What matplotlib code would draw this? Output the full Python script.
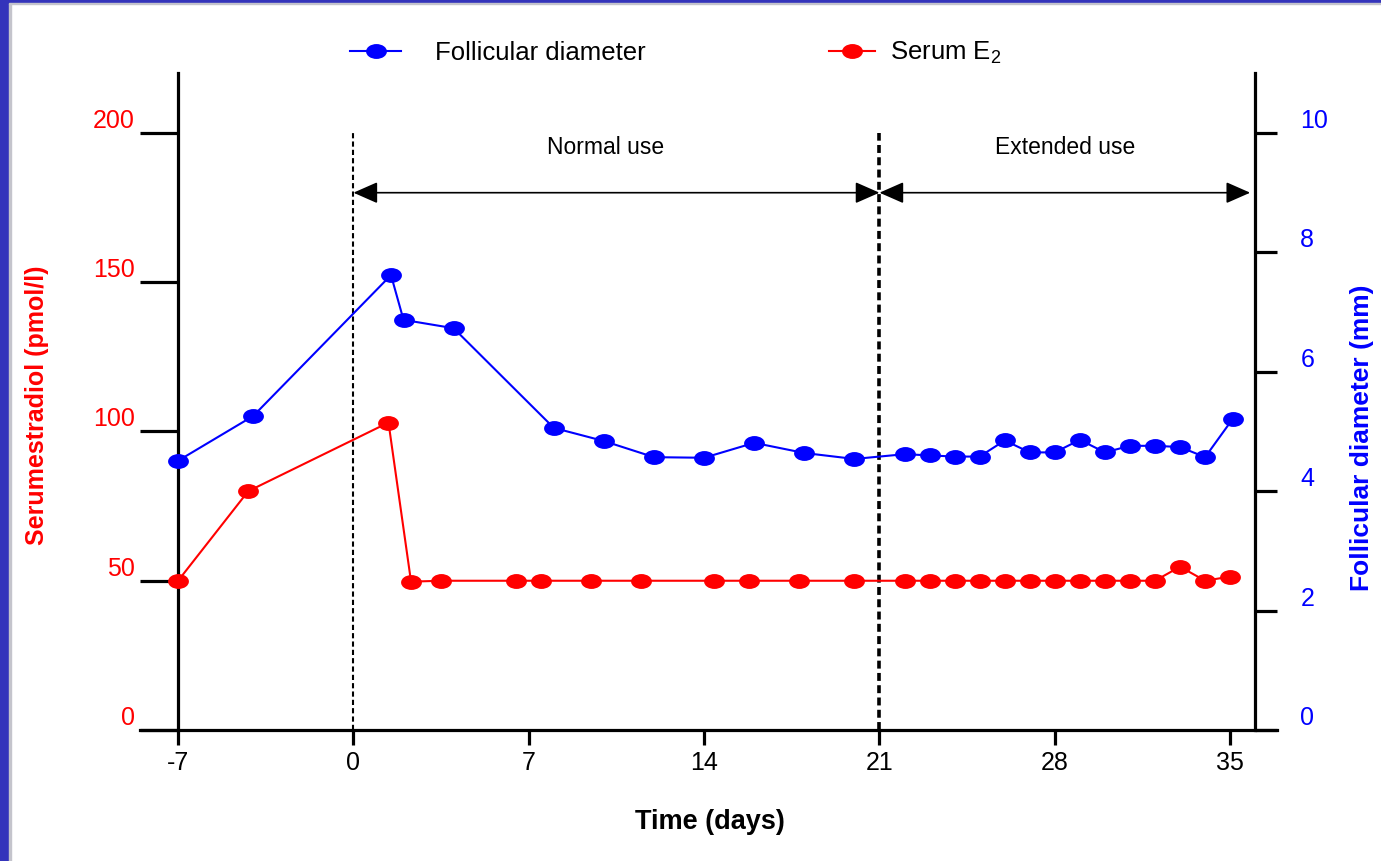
import matplotlib
matplotlib.use("Agg")
import matplotlib.pyplot as plt
from matplotlib.path import Path
from matplotlib.lines import Line2D
from matplotlib.patches import Rectangle

plt.rcParams["font.family"] = ["Liberation Sans", "DejaVu Sans"]
plt.rcParams["axes.unicode_minus"] = False
plt.rcParams["mathtext.fontset"] = "custom"
plt.rcParams["mathtext.rm"] = "Liberation Sans"
plt.rcParams["mathtext.it"] = "Liberation Sans:italic"
plt.rcParams["mathtext.bf"] = "Liberation Sans:bold"

# data
blue_days = [-7, -4, 1.5, 2, 4, 8, 10, 12, 14, 16, 18, 20,
             22, 23, 24, 25, 26, 27, 28, 29, 30, 31, 32, 33, 34, 35.1]
blue_mm = [4.51, 5.26, 7.62, 6.87, 6.73, 5.06, 4.84, 4.57, 4.56, 4.81, 4.64, 4.54,
           4.62, 4.60, 4.58, 4.58, 4.85, 4.65, 4.65, 4.86, 4.65, 4.76, 4.76, 4.74, 4.57, 5.21]

red_days = [-7, -4.2, 1.4, 2.3, 3.5, 6.5, 7.5, 9.5, 11.5, 14.4, 15.8, 17.8, 20,
            22, 23, 24, 25, 26, 27, 28, 29, 30, 31, 32, 33, 34, 35]
red_e2 = [50, 80, 103, 49.7, 50, 50, 50, 50, 50, 50, 50, 50, 50,
          50, 50, 50, 50, 50, 50, 50, 50, 50, 50, 50, 54.7, 50, 51.4]

x_ticks = [-7, 0, 7, 14, 21, 28, 35]
e2_ticks = [0, 50, 100, 150, 200]
mm_ticks = [0, 2, 4, 6, 8, 10]

phases = [("Normal use", 0, 21, 10.05), ("Extended use", 21, 35.8, 28.4)]

BLUE = "#0000ff"
RED = "#ff0000"
W, H = 1381, 861

# slightly squashed ellipse marker, like the original export
circ = Path.unit_circle()
ellipse = Path(circ.vertices * [1.4, 1.0], circ.codes)

fig = plt.figure(figsize=(W / 100, H / 100), dpi=100)
fig.patches.append(Rectangle((0, 0), 9 / W, 1, transform=fig.transFigure,
                             color="#3434bb", zorder=0))
fig.patches.append(Rectangle((9 / W, 0), 2 / W, 1 - 3 / H, transform=fig.transFigure,
                             color="#c4c4cc", zorder=0))
fig.patches.append(Rectangle((0, 1 - 3 / H), 1, 3 / H, transform=fig.transFigure,
                             color="#3434bb", zorder=0))
fig.patches.append(Rectangle((9 / W, 1 - 4 / H), 1, 1 / H, transform=fig.transFigure,
                             color="#c4c4cc", zorder=0))

ax = fig.add_axes([140 / W, (H - 730) / H, (1277 - 140) / W, (730 - 73) / H])
ax2 = ax.twinx()

ax.set_xlim(-8.52, 36.87)
ax.set_ylim(0, 220.1)
ax2.set_ylim(0, 11.005)

# E2 on left axis, follicle on right axis
ax.plot(red_days, red_e2, color=RED, lw=1.5, marker=ellipse, markersize=15,
        markeredgewidth=0, zorder=3)
ax2.plot(blue_days, blue_mm, color=BLUE, lw=1.5, marker=ellipse, markersize=15,
         markeredgewidth=0, zorder=3)

# spines
for a in (ax, ax2):
    a.spines["top"].set_visible(False)
ax.spines["right"].set_visible(False)
ax2.spines["left"].set_visible(False)
ax2.spines["bottom"].set_visible(False)
ax.spines["left"].set_position(("data", -7))
ax2.spines["right"].set_position(("data", 36))
for s in (ax.spines["left"], ax.spines["bottom"], ax2.spines["right"]):
    s.set_linewidth(2.3)

ax.set_xticks(x_ticks)
ax.set_yticks(e2_ticks)
ax2.set_yticks(mm_ticks)
ax.tick_params(axis="x", length=11, width=2.3, pad=4, labelsize=18, colors="black")
ax.tick_params(axis="y", length=27.5, width=2.3, pad=3.6, labelsize=18, labelcolor=RED)
ax2.tick_params(axis="y", length=16, width=2.3, pad=16.5, labelsize=18, labelcolor=BLUE)
for lab in ax.get_yticklabels() + ax2.get_yticklabels():
    lab.set_verticalalignment("bottom")

# axis titles
ax.set_xlabel("Time (days)", fontsize=19.5, fontweight="bold", va="center")
ax.xaxis.set_label_coords(710 / W, 1 - 822 / H, transform=fig.transFigure)
ax.set_ylabel("Serumestradiol (pmol/l)", fontsize=18, fontweight="bold", color=RED,
              va="center")
ax.yaxis.set_label_coords(37 / W, 1 - 405 / H, transform=fig.transFigure)
ax2.set_ylabel("Follicular diameter (mm)", fontsize=19, fontweight="bold", color=BLUE,
               rotation=90, va="center")
ax2.yaxis.set_label_coords(1362 / W, 1 - 438 / H, transform=fig.transFigure)

# phase markers
ax.vlines(0, 0, 200, colors="black", lw=1.5, linestyles=(0, (2.5, 1.5)), zorder=2)
ax.vlines(21, 0, 200, colors="black", lw=2.6, linestyles=(0, (2.2, 1.2)), zorder=2)
for name, start, end, mid in phases:
    ax.annotate("", xy=(end, 180), xytext=(start, 180),
                arrowprops=dict(arrowstyle="<|-|>,head_length=0.75,head_width=0.33",
                                mutation_scale=20, color="black", lw=1.2,
                                shrinkA=0, shrinkB=0))
    ax.text(mid, 195, name, ha="center", va="center", fontsize=16.5)

# legend
h_blue = Line2D([], [], color=BLUE, lw=1.5, marker=ellipse, markersize=15,
                markeredgewidth=0)
h_red = Line2D([], [], color=RED, lw=1.5, marker=ellipse, markersize=15,
               markeredgewidth=0)
fig.legend([h_blue], ["Follicular diameter"], loc="center left",
           bbox_to_anchor=(350 / W, 1 - 53 / H), frameon=False, borderpad=0,
           borderaxespad=0, handlelength=2.0, handletextpad=1.3, fontsize=18.5)
fig.legend([h_red], ["Serum E$_2$"], loc="center left",
           bbox_to_anchor=(829 / W, 1 - 53 / H), frameon=False, borderpad=0,
           borderaxespad=0, handlelength=1.8, handletextpad=0.58, fontsize=18.5)

fig.savefig("out.png", dpi=100)
plt.close(fig)
